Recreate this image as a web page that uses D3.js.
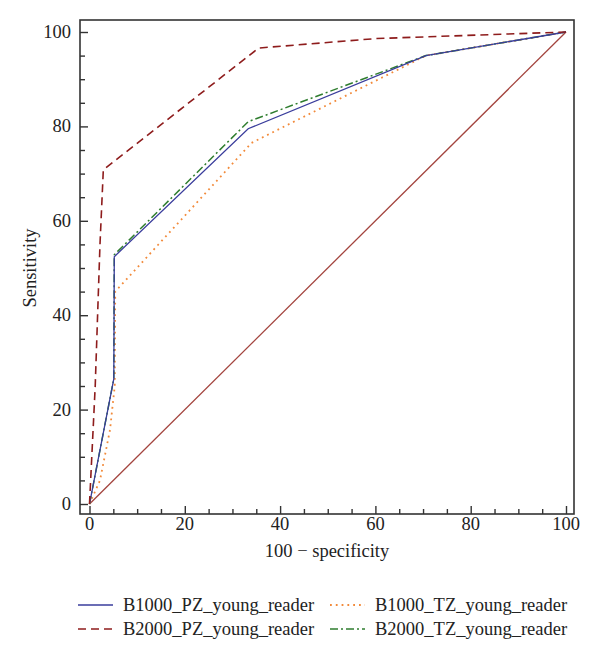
<!DOCTYPE html>
<html><head><meta charset="utf-8">
<script src="https://cdn.jsdelivr.net/npm/d3@7"></script>
<style>body{margin:0;background:#fff}svg{display:block}text{font-family:"Liberation Serif","DejaVu Serif",serif;fill:#222}</style>
</head><body><svg id="c" width="600" height="663"></svg>
<script>
const seriesNames = ["B1000_PZ_young_reader","B2000_PZ_young_reader","B1000_TZ_young_reader","B2000_TZ_young_reader"];
const b1000PZ = [[0,0],[5.1,26.5],[5.2,52.4],[33.3,79.5],[70.6,95],[100,100]];
const b2000PZ = [[0,0],[1.2,25],[2.2,55],[2.9,70.8],[35.5,96.6],[60,98.6],[100,100]];
const b1000TZ = [[0,0],[2.2,5],[4.3,15.7],[5.3,25],[5.4,45],[34,76.5],[70.6,95],[100,100]];
const b2000TZ = [[0,0],[5.1,26.5],[5.2,52.8],[33.3,81],[70.6,95],[100,100]];
const diagonal = [[0,0],[100,100]];
const xTicks = [0,20,40,60,80,100];
const yTicks = [0,20,40,60,80,100];

const svg = d3.select("#c");
const box = {l:80, t:20, r:574, b:514};
const x = d3.scaleLinear().domain([0,100]).range([89.5,566]);
const y = d3.scaleLinear().domain([0,100]).range([504,32]);

const xMinor = d3.range(0,101,5).filter(v=>v%20!==0);
const yMinor = d3.range(0,101,5).filter(v=>v%20!==0);
const gx = svg.append("g").attr("transform",`translate(0,${box.b})`);
gx.call(d3.axisTop(x).tickValues(xTicks).tickSize(8).tickFormat(""));
gx.call(g=>g.select(".domain").remove());
const gxm = svg.append("g").attr("transform",`translate(0,${box.b})`);
gxm.call(d3.axisTop(x).tickValues(xMinor).tickSize(5).tickFormat(""));
gxm.call(g=>g.select(".domain").remove());
const gy = svg.append("g").attr("transform",`translate(${box.l},0)`);
gy.call(d3.axisRight(y).tickValues(yTicks).tickSize(8).tickFormat(""));
gy.call(g=>g.select(".domain").remove());
const gym = svg.append("g").attr("transform",`translate(${box.l},0)`);
gym.call(d3.axisRight(y).tickValues(yMinor).tickSize(5).tickFormat(""));
gym.call(g=>g.select(".domain").remove());
svg.selectAll(".tick line").attr("stroke","#333").attr("stroke-width",1.4);

svg.append("rect").attr("x",box.l).attr("y",box.t).attr("width",box.r-box.l).attr("height",box.b-box.t)
  .attr("fill","none").attr("stroke","#333").attr("stroke-width",1.6);

svg.selectAll(".xl").data(xTicks).enter().append("text").attr("class","xl")
  .attr("x",d=>x(d)).attr("y",530).attr("text-anchor","middle").attr("font-size",18.5).text(d=>d);
svg.selectAll(".yl").data(yTicks).enter().append("text").attr("class","yl")
  .attr("x",71).attr("y",d=>y(d)+6).attr("text-anchor","end").attr("font-size",18.5).text(d=>d);

svg.append("text").attr("x",327).attr("y",557).attr("text-anchor","middle").attr("font-size",18.5).text("100 − specificity");
svg.append("text").attr("transform","translate(36,268) rotate(-90)").attr("text-anchor","middle").attr("font-size",18.5).text("Sensitivity");

const line = d3.line().x(d=>x(d[0])).y(d=>y(d[1]));
const styles = [
  {data:b1000PZ, color:"#3a3d9c", dash:null, w:1.3},
  {data:b2000PZ, color:"#8e1c1c", dash:"8,5", w:1.6},
  {data:b1000TZ, color:"#f28a3a", dash:"1.8,4", w:1.8},
  {data:b2000TZ, color:"#2f7d2f", dash:"8,3,2,3", w:1.5}
];
svg.append("path").attr("d",line(diagonal)).attr("fill","none").attr("stroke","#a3443e").attr("stroke-width",1.3);
const order = [2,3,0,1];
order.forEach(i=>{
  const s = styles[i];
  svg.append("path").attr("d",line(s.data)).attr("fill","none").attr("stroke",s.color)
    .attr("stroke-width",s.w).attr("stroke-dasharray",s.dash);
});

const legPos = [[78,605],[78,629],[330,605],[330,629]];
seriesNames.forEach((n,i)=>{
  const s = styles[i], p = legPos[i];
  svg.append("line").attr("x1",p[0]).attr("x2",p[0]+35).attr("y1",p[1]).attr("y2",p[1])
    .attr("stroke",s.color).attr("stroke-width",s.w).attr("stroke-dasharray",s.dash);
  svg.append("text").attr("x",p[0]+45).attr("y",p[1]+6).attr("font-size",18.5).text(n);
});
</script></body></html>
